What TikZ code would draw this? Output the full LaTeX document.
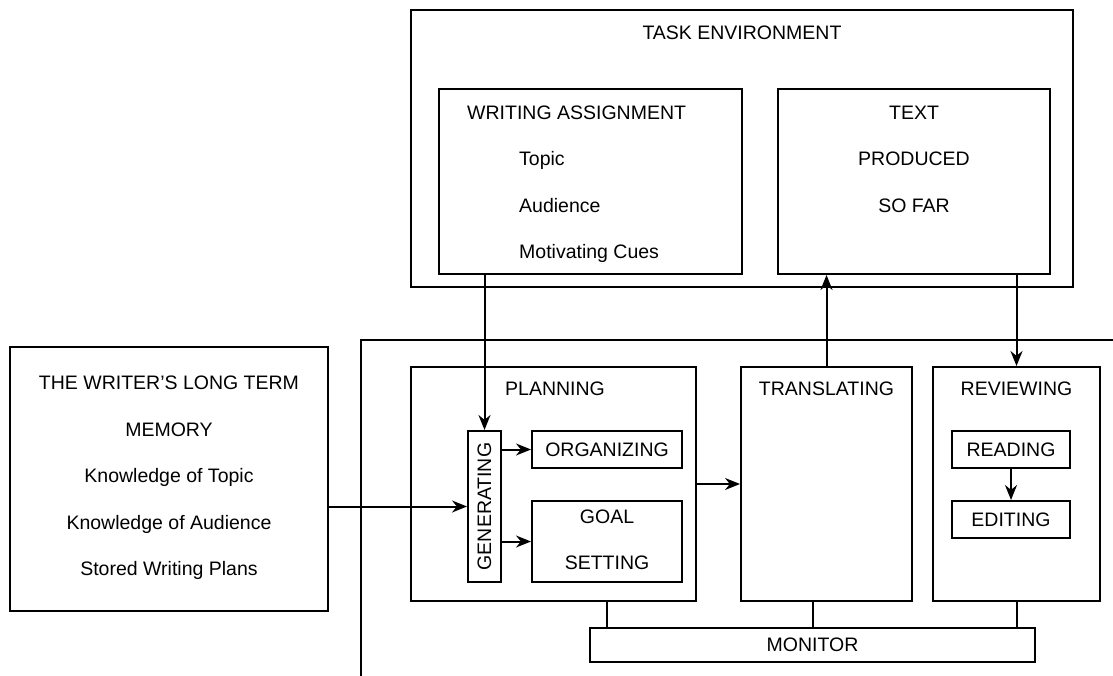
\documentclass[tikz,border=0pt]{standalone}
\usepackage{fontspec}
\setmainfont{Liberation Sans}
\usetikzlibrary{arrows.meta}

\tikzset{
    box/.style={draw, line width=2pt, inner sep=0pt},
    lbl/.style={inner sep=0pt, font=\fontsize{19.5}{23}\selectfont},
    arr/.style={line width=2pt, -{Stealth[length=15pt,width=12pt]}},
    ln/.style={line width=2pt}
}

\begin{document}
\begin{tikzpicture}[x=1pt, y=-1pt]
    \useasboundingbox (0,0) rectangle (1113,676);

    % Task environment
    \node[box, minimum width=662, minimum height=277] (task) at (742,148.5) {};
    \node[lbl] (tasklbl) at (742,33) {TASK ENVIRONMENT};
    \node[box, minimum width=303, minimum height=185] (wa) at (590.5,181.5) {};
    \node[lbl, anchor=west] (walbl) at (467,113) {WRITING ASSIGNMENT};
    \node[lbl, anchor=west] (topic) at (519,160) {Topic};
    \node[lbl, anchor=west] (aud) at (519,206) {Audience};
    \node[lbl, anchor=west] (cues) at (519,253) {Motivating Cues};
    \node[box, minimum width=272, minimum height=185] (text) at (914,181.5) {};
    \node[lbl] (textlbl) at (914,113) {TEXT};
    \node[lbl] (prod) at (914,159) {PRODUCED};
    \node[lbl] (sofar) at (914,206) {SO FAR};

    % Long term memory
    \node[box, minimum width=318, minimum height=264] (mem) at (169,479) {};
    \node[lbl] (mem1) at (169,383) {THE WRITER'S LONG TERM};
    \node[lbl] (mem2) at (169,430) {MEMORY};
    \node[lbl] (mem3) at (169,477) {Knowledge of Topic};
    \node[lbl] (mem4) at (169,524) {Knowledge of Audience};
    \node[lbl] (mem5) at (169,570) {Stored Writing Plans};

    % Writing processes frame
    \coordinate (fr) at (361,340);
    \draw[ln] (1113,340) -- (fr) -- (361,676);

    % Planning
    \node[box, minimum width=285, minimum height=234] (plan) at (553.5,484) {};
    \node[lbl] (planlbl) at (555,389) {PLANNING};
    \node[box, minimum width=33, minimum height=151] (gen) at (484.5,506.5) {};
    \node[lbl, rotate=90] (genlbl) at (gen) {GENERATING};
    \node[box, minimum width=150, minimum height=37] (org) at (607,449.5) {};
    \node[lbl] (orglbl) at (org) {ORGANIZING};
    \node[box, minimum width=150, minimum height=81] (goal) at (607,541.5) {};
    \node[lbl] (goal1) at (607,517) {GOAL};
    \node[lbl] (goal2) at (607,563) {SETTING};

    % Translating
    \node[box, minimum width=171, minimum height=234] (trans) at (826.5,484) {};
    \node[lbl] (translbl) at (826.5,389) {TRANSLATING};

    % Reviewing
    \node[box, minimum width=167, minimum height=234] (rev) at (1016.5,484) {};
    \node[lbl] (revlbl) at (1016.5,389) {REVIEWING};
    \node[box, minimum width=118, minimum height=37] (read) at (1011,449.5) {};
    \node[lbl] (readlbl) at (read) {READING};
    \node[box, minimum width=118, minimum height=37] (edit) at (1011,519.5) {};
    \node[lbl] (editlbl) at (edit) {EDITING};

    % Monitor
    \node[box, minimum width=445, minimum height=34] (mon) at (812.5,645) {};
    \node[lbl] (monlbl) at (mon) {MONITOR};

    % Arrows
    \draw[arr] (wa.south -| gen.north) -- (gen.north);
    \draw[arr] (mem.east |- gen.west) -- (gen.west);
    \draw[arr] (gen.east |- org.west) -- (org.west);
    \draw[arr] (gen.east |- goal.west) -- (goal.west);
    \draw[arr] (plan.east) -- (trans.west);
    \draw[arr] (trans.north) -- (trans.north |- text.south);
    \draw[arr] (rev.north |- text.south) -- (rev.north);
    \draw[arr] (read.south) -- (edit.north);

    % Links to monitor
    \draw[ln] (org.south |- plan.south) -- (org.south |- mon.north);
    \draw[ln] (mon.north |- trans.south) -- (mon.north);
    \draw[ln] (rev.south) -- (rev.south |- mon.north);
\end{tikzpicture}
\end{document}
